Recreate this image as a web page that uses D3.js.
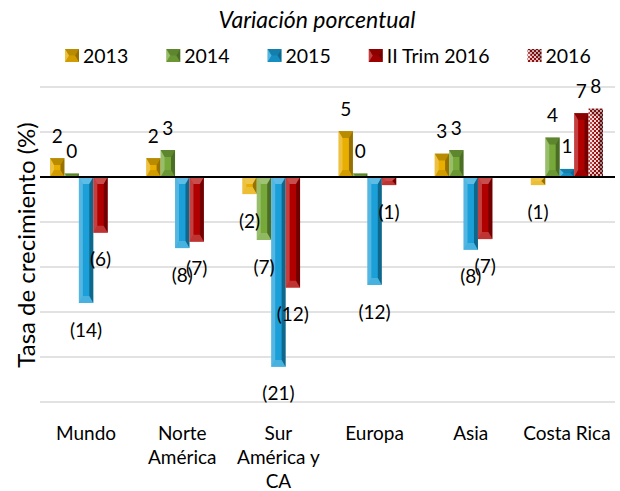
<!DOCTYPE html>
<html>
<head>
<meta charset="utf-8">
<script src="https://d3js.org/d3.v7.min.js"></script>
<style>
  body { margin: 0; background: #fff; }
  text { font-family: Lato, "Open Sans", sans-serif; fill: #000; }
</style>
</head>
<body>
<svg width="620" height="491"></svg>
<script>
// data
var categories = ["Mundo", "Norte\nAmérica", "Sur\nAmérica y\nCA", "Europa", "Asia", "Costa Rica"];
var seriesNames = ["2013", "2014", "2015", "II Trim 2016", "2016"];
var v2013 = [2.1, 2.1, -1.9, 5.1, 2.6, -0.9];
var v2014 = [0.4, 3.0, -7.0, 0.4, 3.0, 4.4];
var v2015 = [-14.0, -7.9, -21.1, -12.0, -8.1, 0.9];
var vTrim = [-6.2, -7.2, -12.3, -0.9, -6.9, 7.1];
var v2016 = [null, null, null, null, null, 7.6];
var gridTicks = [10, 5, 0, -5, -10, -15, -20, -25];

var allSeries = [v2013, v2014, v2015, vTrim, v2016];
var colors = ["#E8AE00", "#76A83A", "#1A9FD8", "#B00000", "url(#checker)"];

var svg = d3.select("svg");

var defs = svg.append("defs");
var pat = defs.append("pattern")
    .attr("id", "checker")
    .attr("width", 4).attr("height", 4)
    .attr("patternUnits", "userSpaceOnUse");
pat.append("rect").attr("width", 4).attr("height", 4).attr("fill", "#f3d6d6");
pat.append("rect").attr("width", 2).attr("height", 2).attr("fill", "#a01010");
pat.append("rect").attr("x", 2).attr("y", 2).attr("width", 2).attr("height", 2).attr("fill", "#a01010");

var x0 = d3.scaleBand().domain(d3.range(categories.length)).range([38, 615]);
var gap = 24;
var x1 = d3.scaleBand().domain(d3.range(seriesNames.length))
    .range([gap / 2, x0.bandwidth() - gap / 2]);
var y = d3.scaleLinear().domain([-25, 10]).range([402, 87]);

// gridlines
svg.append("g").selectAll("line")
  .data(gridTicks.filter(function(d) { return d !== 0; }))
  .join("line")
    .attr("x1", 40).attr("x2", 615)
    .attr("y1", function(d) { return y(d); })
    .attr("y2", function(d) { return y(d); })
    .attr("stroke", "#d9d9d9")
    .attr("stroke-width", 1.5);

// beveled bar
function bevelBar(g, x, yy, w, h, fill, neg) {
  g.append("rect").attr("x", x).attr("y", yy).attr("width", w).attr("height", h).attr("fill", fill);
  var b = Math.min(4, w / 2, h / 2), dy = Math.min(7, h / 2);
  var pts = function(a) { return a.map(function(p) { return p.join(","); }).join(" "); };
  var faces = [
    [[[x, yy], [x + w, yy], [x + w - b, yy + dy], [x + b, yy + dy]], neg ? "#fff" : "#000", neg ? 0.3 : 0.2],
    [[[x, yy], [x + b, yy + dy], [x + b, yy + h - dy], [x, yy + h]], "#fff", 0.25],
    [[[x + w, yy], [x + w - b, yy + dy], [x + w - b, yy + h - dy], [x + w, yy + h]], "#000", 0.35],
    [[[x, yy + h], [x + b, yy + h - dy], [x + w - b, yy + h - dy], [x + w, yy + h]], neg ? "#fff" : "#000", neg ? 0.2 : 0.1]
  ];
  faces.forEach(function(f) {
    g.append("polygon").attr("points", pts(f[0])).attr("fill", f[1]).attr("fill-opacity", f[2]);
  });
}

function fmt(v) {
  var r = Math.round(Math.abs(v));
  return v < 0 ? "(" + r + ")" : String(r);
}

var bars = svg.append("g");
var labels = svg.append("g").attr("font-size", 19);

allSeries.forEach(function(vals, s) {
  vals.forEach(function(v, i) {
    if (v === null) return;
    var bx = x0(i) + x1(s), w = x1.bandwidth();
    var top = y(Math.max(0, v)), bot = y(Math.min(0, v));
    bevelBar(bars, bx, top, w, bot - top, colors[s], v < 0);
    labels.append("text")
      .attr("x", bx + w / 2)
      .attr("y", v < 0 ? bot + 26 : top - 23)
      .attr("text-anchor", "middle")
      .attr("dominant-baseline", "central")
      .text(fmt(v));
  });
});

// zero line
svg.append("line")
  .attr("x1", 40).attr("x2", 615)
  .attr("y1", y(0)).attr("y2", y(0))
  .attr("stroke", "#000").attr("stroke-width", 2);

// category labels
var cat = svg.append("g").attr("font-size", 19).attr("text-anchor", "middle");
categories.forEach(function(c, i) {
  c.split("\n").forEach(function(line, k) {
    cat.append("text")
      .attr("x", x0(i) + x0.bandwidth() / 2)
      .attr("y", 432 + k * 24)
      .attr("dominant-baseline", "central")
      .text(line);
  });
});

// y axis title
svg.append("text")
  .attr("transform", "translate(25,245) rotate(-90)")
  .attr("text-anchor", "middle")
  .attr("dominant-baseline", "central")
  .attr("font-size", 24)
  .text("Tasa de crecimiento (%)");

// chart title
svg.append("text")
  .attr("x", 317).attr("y", 19)
  .attr("text-anchor", "middle")
  .attr("dominant-baseline", "central")
  .attr("font-size", 23)
  .attr("font-style", "italic")
  .text("Variación porcentual");

// legend
var leg = svg.append("g");
var lx = 65;
seriesNames.forEach(function(name, s) {
  bevelBar(leg, lx, 49, 14, 13, colors[s], false);
  var t = leg.append("text")
    .attr("x", lx + 18).attr("y", 55.5)
    .attr("dominant-baseline", "central")
    .attr("font-size", 19.5)
    .text(name);
  lx += 18 + t.node().getComputedTextLength() + 38;
});
</script>
</body>
</html>
